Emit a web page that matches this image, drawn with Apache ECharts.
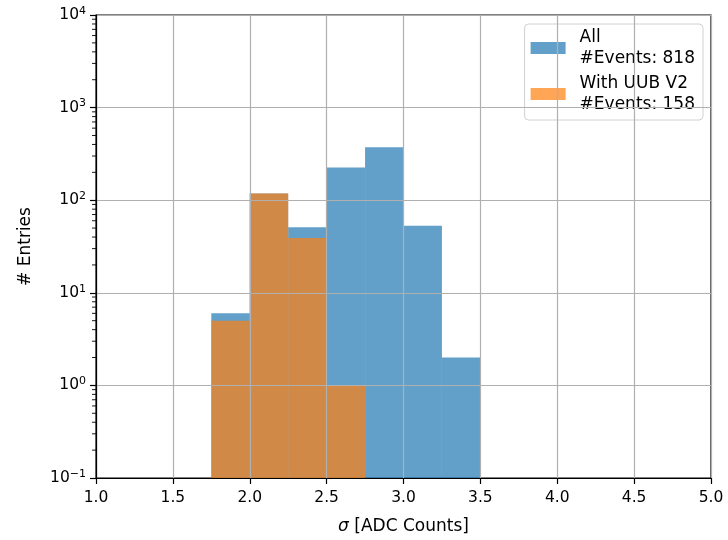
<!DOCTYPE html>
<html>
<head>
<meta charset="utf-8">
<script src="https://cdn.jsdelivr.net/npm/echarts@6/dist/echarts.min.js"></script>
<style>html,body{margin:0;padding:0;background:#fff}#main{width:728px;height:540px}</style>
</head>
<body>
<div id="main"></div>
<script>
// histogram bins (edges) and counts
var allEdges = [1.75, 2.0, 2.25, 2.5, 2.75, 3.0, 3.25, 3.5];
var allCounts = [6, 118, 51, 226, 373, 53, 2];
var uubEdges = [1.75, 2.0, 2.25, 2.5, 2.75];
var uubCounts = [5, 118, 39, 1];
var seriesNames = ['All\n#Events: 818', 'With UUB V2\n#Events: 158'];
var yDecades = [0.1, 1, 10, 100, 1000];
var yMantissas = [2, 3, 4, 5, 6, 7, 8, 9];

var yMin = 0.1, yMax = 10000;
var font = 'DejaVu Sans';

function toRows(edges, counts) {
    var rows = [];
    for (var i = 0; i < counts.length; i++) {
        rows.push([edges[i], edges[i + 1], counts[i]]);
    }
    return rows;
}

var minorRows = [];
for (var d = 0; d < yDecades.length; d++) {
    for (var m = 0; m < yMantissas.length; m++) {
        minorRows.push([1.0, yDecades[d] * yMantissas[m]]);
    }
}

function barItem(params, api) {
    var p0 = api.coord([api.value(0), yMin]);
    var p1 = api.coord([api.value(1), api.value(2)]);
    return {
        type: 'rect',
        shape: {x: p0[0], y: p1[1], width: p1[0] - p0[0], height: p0[1] - p1[1]},
        style: {fill: api.visual('color')}
    };
}

function minorTick(params, api) {
    var p = api.coord([api.value(0), api.value(1)]);
    return {
        type: 'line',
        shape: {x1: p[0] - 4, y1: p[1], x2: p[0], y2: p[1]},
        style: {stroke: '#000', lineWidth: 0.9}
    };
}

var chart = echarts.init(document.getElementById('main'));
chart.setOption({
    backgroundColor: '#fff',
    animation: false,
    textStyle: {fontFamily: font},
    grid: {
        left: 96, right: 17, top: 15, bottom: 60,
        show: true, borderColor: '#000', borderWidth: 1.2, backgroundColor: 'transparent'
    },
    legend: {
        orient: 'vertical',
        right: 25,
        top: 24,
        icon: 'rect',
        itemWidth: 35,
        itemHeight: 12,
        itemGap: 4,
        padding: [3, 8, 5, 6],
        backgroundColor: 'rgba(255,255,255,0.8)',
        borderColor: '#d0d0d0',
        borderWidth: 1,
        borderRadius: 4,
        textStyle: {fontFamily: font, fontSize: 17, color: '#000', lineHeight: 21, padding: [0, 0, 0, 9]},
        data: seriesNames
    },
    xAxis: {
        type: 'value',
        min: 1.0,
        max: 5.0,
        interval: 0.5,
        z: 5,
        name: '{i|σ} [ADC Counts]',
        nameLocation: 'middle',
        nameGap: 40,
        nameTextStyle: {
            fontFamily: font, fontSize: 17, color: '#000',
            rich: {i: {fontFamily: font, fontSize: 17, fontStyle: 'italic', color: '#000'}}
        },
        axisLine: {show: true, onZero: false, lineStyle: {color: '#000', width: 1.2}},
        axisTick: {show: true, length: 6, lineStyle: {color: '#000', width: 1.2}},
        axisLabel: {
            margin: 12, fontFamily: font, fontSize: 15.5, color: '#000',
            formatter: function (v) { return v.toFixed(1); }
        },
        splitLine: {show: true, lineStyle: {color: '#b0b0b0', width: 1.2}}
    },
    yAxis: {
        type: 'log',
        logBase: 10,
        min: yMin,
        max: yMax,
        z: 5,
        name: '# Entries',
        nameLocation: 'middle',
        nameGap: 62,
        nameTextStyle: {fontFamily: font, fontSize: 17, color: '#000'},
        axisLine: {show: true, lineStyle: {color: '#000', width: 1.2}},
        axisTick: {show: true, length: 6, lineStyle: {color: '#000', width: 1.2}},
        axisLabel: {
            margin: 10, fontFamily: font, fontSize: 15.5, color: '#000',
            formatter: function (v) {
                var e = Math.round(Math.log(v) / Math.LN10);
                return '10{s|' + (e < 0 ? '\u2212' + (-e) : e) + '}';
            },
            rich: {s: {fontFamily: font, fontSize: 11, color: '#000', padding: [0, 0, 8, 0]}}
        },
        splitLine: {show: true, lineStyle: {color: '#b0b0b0', width: 1.2}}
    },
    series: [
        {
            name: seriesNames[0],
            type: 'custom',
            renderItem: barItem,
            itemStyle: {color: 'rgba(31,119,180,0.7)'},
            encode: {x: [0, 1], y: 2},
            data: toRows(allEdges, allCounts),
            z: 2
        },
        {
            name: seriesNames[1],
            type: 'custom',
            renderItem: barItem,
            itemStyle: {color: 'rgba(255,127,14,0.7)'},
            encode: {x: [0, 1], y: 2},
            data: toRows(uubEdges, uubCounts),
            z: 3
        },
        {
            name: 'minor',
            type: 'custom',
            renderItem: minorTick,
            clip: false,
            silent: true,
            encode: {x: 0, y: 1},
            data: minorRows,
            z: 6
        }
    ]
});
</script>
</body>
</html>
